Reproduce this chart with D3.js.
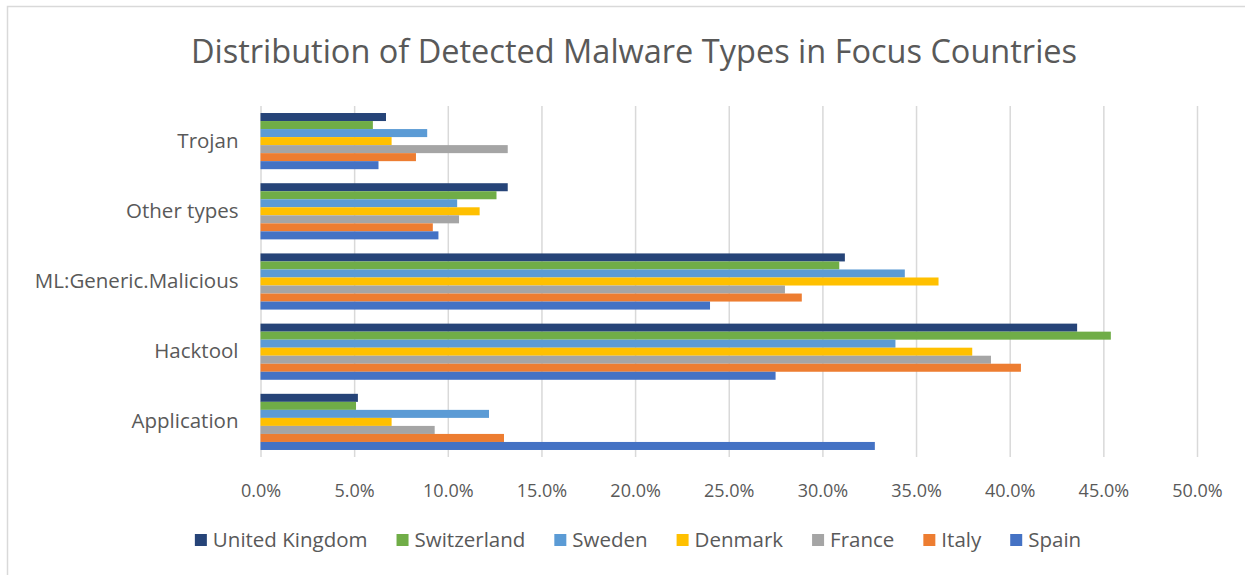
<!DOCTYPE html>
<html>
<head>
<meta charset="utf-8">
<script src="https://cdn.jsdelivr.net/npm/d3@7"></script>
<style>
  body { margin: 0; background: #fff; }
  svg { display: block; }
  svg text { font-family: "Open Sans", "Noto Sans", sans-serif; }
  .grid line { stroke: #d9d9d9; stroke-width: 1.5px; }
  .grid text { fill: #595959; font-size: 18px; }
  .cats text { fill: #595959; font-size: 20.5px; }
  .legend text { fill: #595959; font-size: 20.5px; }
</style>
</head>
<body>
<svg id="svg" width="1245" height="575"></svg>
<script>

// categories, top to bottom as drawn
var categories = ['Trojan', 'Other types', 'ML:Generic.Malicious', 'Hacktool', 'Application'];

// series, in legend order (top bar of each group first)
var countries = ['United Kingdom', 'Switzerland', 'Sweden', 'Denmark', 'France', 'Italy', 'Spain'];
var colors = ['#264478', '#70ad47', '#5b9bd5', '#ffc000', '#a5a5a5', '#ed7d31', '#4472c4'];

// percent values per country, same order as categories
var unitedKingdom = [6.7, 13.2, 31.2, 43.6, 5.2];
var switzerland   = [6.0, 12.6, 30.9, 45.4, 5.1];
var sweden        = [8.9, 10.5, 34.4, 33.9, 12.2];
var denmark       = [7.0, 11.7, 36.2, 38.0, 7.0];
var france        = [13.2, 10.6, 28.0, 39.0, 9.3];
var italy         = [8.3, 9.2, 28.9, 40.6, 13.0];
var spain         = [6.3, 9.5, 24.0, 27.5, 32.8];

var xTicks = [0, 5, 10, 15, 20, 25, 30, 35, 40, 45, 50];

var series = [unitedKingdom, switzerland, sweden, denmark, france, italy, spain];

var svg = d3.select('#svg');

// outer frame
svg.append('rect')
  .attr('x', 7.5).attr('y', 6.5)
  .attr('width', 1260).attr('height', 600)
  .attr('fill', 'none')
  .attr('stroke', '#d9d9d9')
  .attr('stroke-width', 1.5);

svg.append('text')
  .attr('x', 634).attr('y', 63)
  .attr('text-anchor', 'middle')
  .attr('fill', '#595959')
  .style('font-size', '32.5px')
  .text('Distribution of Detected Malware Types in Focus Countries');

var m = {top: 106, left: 260.5, right: 1197, bottom: 457};

var x = d3.scaleLinear()
  .domain([0, 50])
  .range([m.left, m.right]);

var y = d3.scaleBand()
  .domain(categories)
  .range([m.top, m.bottom])
  .paddingInner(0.2)
  .paddingOuter(0.1);

var yInner = d3.scaleBand()
  .domain(countries)
  .range([0, y.bandwidth()]);

// gridlines + tick labels
var grid = svg.append('g')
  .attr('class', 'grid')
  .attr('transform', 'translate(0,' + m.bottom + ')')
  .call(d3.axisBottom(x)
    .tickValues(xTicks)
    .tickSize(-(m.bottom - m.top))
    .tickPadding(27)
    .tickFormat(function(d) { return d.toFixed(1) + '%'; }));
grid.attr('font-family', null).attr('font-size', null);
grid.select('.domain').remove();

// bars
categories.forEach(function(cat, ci) {
  var g = svg.append('g')
    .attr('transform', 'translate(0,' + y(cat) + ')');
  g.selectAll('rect')
    .data(countries)
    .enter().append('rect')
    .attr('x', x(0))
    .attr('y', function(c) { return yInner(c); })
    .attr('width', function(c, i) { return x(series[i][ci]) - x(0); })
    .attr('height', yInner.bandwidth())
    .attr('fill', function(c, i) { return colors[i]; });
});

// category labels
var cats = svg.append('g')
  .attr('class', 'cats')
  .attr('transform', 'translate(' + m.left + ',0)')
  .call(d3.axisLeft(y).tickSize(0).tickPadding(22));
cats.attr('font-family', null).attr('font-size', null);
cats.select('.domain').remove();

// legend, centred
var legend = svg.append('g').attr('class', 'legend');
var items = legend.selectAll('g')
  .data(countries)
  .enter().append('g');
items.append('rect')
  .attr('width', 12).attr('height', 12)
  .attr('y', -13)
  .attr('fill', function(d, i) { return colors[i]; });
items.append('text')
  .attr('x', 18)
  .attr('y', 0)
  .text(function(d) { return d; });

var pos = 0;
items.each(function() {
  var w = 18 + this.querySelector('text').getComputedTextLength();
  d3.select(this).attr('data-x', pos);
  pos += w + 29;
});
var total = pos - 29;
var start = 638 - total / 2;
items.attr('transform', function() {
  return 'translate(' + (start + (+this.getAttribute('data-x'))) + ',547)';
});

</script>
</body>
</html>
